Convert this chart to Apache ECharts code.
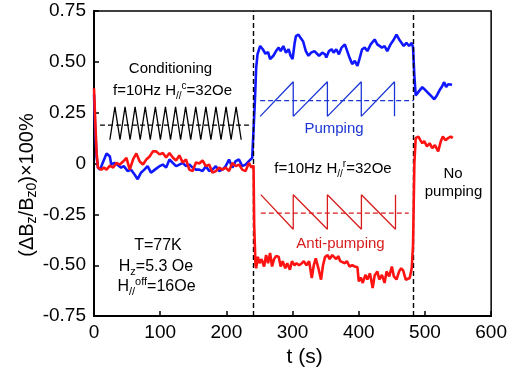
<!DOCTYPE html>
<html>
<head>
<meta charset="utf-8">
<script src="https://cdn.jsdelivr.net/npm/echarts@6/dist/echarts.min.js"></script>
<style>html,body{margin:0;padding:0;background:#fff;}#c{width:510px;height:373px;}</style>
</head>
<body>
<div id="c"></div>
<script>
// ---- data ----
var blueT = [0,2,4,6,9,14,19,24,26,31,35,41,45,51,56,61,66,71,76,81,86,92,99,104,109,114,119,124,129,134,139,144,149,154,159,164,169,174,179,184,189,194,199,204,209,214,219,224,229,234,239,241,243,245,247,251,255,259,263,266,271,275,279,282,286,290,294,297,300,303,305,309,312,316,320,324,328,333,340,345,349,351,355,359,362,366,370,374,379,382,386,390,394,398,401,405,409,413,418,424,428,431,435,439,443,448,453,457,461,464,468,472,476,480,482,484,486,488,492,496,501,506,510,514,518,522,526,529,532,535,541];
var blueV = [0.34,0.15,0.03,-0.02,-0.03,0.01,0.05,0.035,-0.005,0.003,-0.005,-0.02,-0.013,-0.037,-0.03,-0.053,-0.077,-0.045,-0.03,-0.013,-0.045,-0.03,-0.013,-0.005,-0.02,0.02,0.003,-0.013,-0.005,0.003,-0.013,-0.005,-0.02,-0.03,-0.03,-0.037,-0.013,-0.037,-0.03,-0.013,-0.037,-0.03,-0.013,0.02,-0.02,0.012,0.02,-0.013,-0.005,0.012,0.028,0.02,0.3,0.47,0.537,0.578,0.562,0.54,0.548,0.513,0.53,0.553,0.57,0.553,0.578,0.545,0.562,0.53,0.513,0.59,0.626,0.634,0.618,0.6,0.553,0.53,0.545,0.553,0.53,0.545,0.537,0.521,0.553,0.562,0.545,0.562,0.537,0.57,0.586,0.578,0.521,0.489,0.505,0.48,0.513,0.562,0.57,0.553,0.586,0.61,0.586,0.594,0.57,0.578,0.553,0.586,0.61,0.634,0.61,0.618,0.578,0.594,0.578,0.594,0.57,0.43,0.335,0.33,0.36,0.376,0.36,0.343,0.33,0.316,0.335,0.36,0.38,0.4,0.376,0.39,0.387];

var redT = [0,2,4,6,11,15,19,24,29,34,39,44,49,54,59,64,69,74,79,84,89,94,99,104,109,114,119,124,129,134,139,144,149,154,159,164,169,174,179,184,189,194,199,204,209,214,219,224,229,234,238,241,242,244,245,247.5,250,253,257,260,263,266,269,272,275,279,282,285,289,292,296,299,303,306,310,314,317,321,325,329,332,335,339,343,346,349,353,356,360,363,366,369,372,375,379,382,386,390,394,398,400,403,406,410,413,417,421,424,428,431,435,439,442,446,450,453,457,461,464,467,471,474,477,480,482,484,486,490,493,496,499,503,507,511,515,520,524,527,531,535,539,542];
var redV = [0.37,0.2,0.05,-0.02,-0.03,-0.02,-0.03,-0.01,-0.02,0.003,-0.005,0.01,0.028,-0.03,0.02,0.05,0.01,-0.005,0.02,0.035,0.06,0.06,0.045,0.052,0.03,0.052,0.03,0.015,0.04,0.005,0.02,-0.03,-0.037,0.005,0.0,0.015,-0.013,-0.005,-0.045,-0.037,-0.02,-0.03,-0.02,-0.037,0.003,-0.013,-0.005,-0.03,-0.037,0.003,-0.02,-0.01,-0.3,-0.5,-0.515,-0.458,-0.49,-0.47,-0.506,-0.45,-0.49,-0.44,-0.506,-0.47,-0.455,-0.458,-0.506,-0.48,-0.515,-0.49,-0.522,-0.48,-0.5,-0.49,-0.5,-0.49,-0.48,-0.5,-0.48,-0.563,-0.5,-0.466,-0.515,-0.571,-0.5,-0.46,-0.45,-0.47,-0.45,-0.442,-0.47,-0.455,-0.48,-0.475,-0.49,-0.48,-0.506,-0.5,-0.506,-0.51,-0.579,-0.56,-0.587,-0.547,-0.57,-0.54,-0.612,-0.55,-0.53,-0.57,-0.547,-0.587,-0.53,-0.555,-0.506,-0.555,-0.57,-0.53,-0.515,-0.525,-0.571,-0.58,-0.563,-0.515,-0.4,0.0,0.125,0.133,0.115,0.1,0.11,0.084,0.1,0.076,0.09,0.06,0.11,0.133,0.115,0.125,0.133,0.125];

// schematic field waveforms (inset sketches)
var condWaveT = [24,31.6,39.3,46.9,54.5,62.1,69.8,77.4,85.0,92.7,100.3,107.9,115.6,123.2,130.8,138.4,146.1,153.7,161.3,169.0,176.6,184.2,191.9,199.5,207.1,214.7,222.4];
var condWaveV = [0.117,0.279,0.117,0.279,0.117,0.279,0.117,0.279,0.117,0.279,0.117,0.279,0.117,0.279,0.117,0.279,0.117,0.279,0.117,0.279,0.117,0.279,0.117,0.279,0.117,0.279,0.117];
var condMeanT = [9,235];
var condMeanV = [0.189,0.189];

var pumpWaveT = [251,301,301,352.6,352.6,403.8,403.8,454,454];
var pumpWaveV = [0.232,0.402,0.232,0.402,0.232,0.402,0.232,0.402,0.232];
var pumpMeanT = [251,483];
var pumpMeanV = [0.309,0.309];

var antiWaveT = [252,301,301,352.6,352.6,404,404,455.5,455.5];
var antiWaveV = [-0.153,-0.323,-0.153,-0.323,-0.153,-0.323,-0.153,-0.323,-0.153];
var antiMeanT = [252,475.5];
var antiMeanV = [-0.244,-0.244];

var phaseBounds = [241,483];
var xTicks = {min:0, max:600, step:100};
var yTicks = {min:-0.75, max:0.75, step:0.25};

function zip(a,b){ var r=[]; for(var i=0;i<a.length;i++) r.push([a[i],b[i]]); return r; }

var FONT = '"Liberation Sans", Arial, Helvetica, sans-serif';
var BLUE = '#1018ff', RED = '#ff1212';
var BLUE2 = '#1c36d6', RED2 = '#d81c1c';

function sketch(name, t, v, color, dashed){
  return {name:name, type:'line', data:zip(t,v), symbol:'none', silent:true, z:3,
    lineStyle:{color:color, width:1.3, type: dashed ? [5,3] : 'solid'}, animation:false};
}

var chart = echarts.init(document.getElementById('c'), null, {renderer:'canvas'});

var richBase = function(fs){ return {
  n:{fontSize:fs, lineHeight:fs+5, fontFamily:FONT, color:'#000'},
  sub:{fontSize:Math.round(fs*0.68), lineHeight:Math.round(fs*0.68), verticalAlign:'bottom', fontFamily:FONT, color:'#000'},
  sup:{fontSize:Math.round(fs*0.68), lineHeight:Math.round(fs*0.68), verticalAlign:'top', fontFamily:FONT, color:'#000'}
};};

function txt(x,y,text,fs,color,rich,rot){
  var st = {x:0, y:0, text:text, align:'center', verticalAlign:'middle', fill:color||'#000', font: fs+'px '+FONT};
  if (rich) st.rich = rich;
  return {type:'text', x:x, y:y, rotation:rot||0, style:st, z:10, silent:true};
}

var option = {
  animation:false,
  backgroundColor:'#fff',
  grid:{left:94, right:17, top:11, bottom:52, show:true, borderColor:'#000', borderWidth:1.5, containLabel:false},
  xAxis:{type:'value', min:xTicks.min, max:xTicks.max, interval:xTicks.step,
    name:'t (s)', nameLocation:'middle', nameGap:29,
    nameTextStyle:{fontSize:21, fontFamily:FONT, color:'#000', padding:[0,0,0,24]},
    axisLine:{show:true, onZero:false, lineStyle:{color:'#000', width:2}},
    axisTick:{show:true, inside:true, length:5, lineStyle:{color:'#000', width:1.5}},
    axisLabel:{fontSize:19, fontFamily:FONT, color:'#000', margin:7},
    splitLine:{show:false}},
  yAxis:{type:'value', min:yTicks.min, max:yTicks.max, interval:yTicks.step,
    axisLine:{show:true, onZero:false, lineStyle:{color:'#000', width:2}},
    axisTick:{show:true, inside:true, length:5, lineStyle:{color:'#000', width:1.5}},
    axisLabel:{fontSize:19, fontFamily:FONT, color:'#000', margin:8,
      formatter:function(v){ return Math.abs(v)<1e-9 ? '0' : v.toFixed(2); }},
    splitLine:{show:false}},
  series:[
    {name:'pumping run', type:'line', data:zip(blueT,blueV), symbol:'none', z:4,
      lineStyle:{color:BLUE, width:2.6}, silent:true,
      markLine:{silent:true, symbol:['none','none'], label:{show:false},
        lineStyle:{color:'#000', width:1.4, type:[5,3]},
        data: phaseBounds.map(function(b){ return {xAxis:b}; })}},
    {name:'anti-pumping run', type:'line', data:zip(redT,redV), symbol:'none', z:5,
      lineStyle:{color:RED, width:2.6}, silent:true},
    sketch('cond wave', condWaveT, condWaveV, '#000', false),
    sketch('cond mean', condMeanT, condMeanV, '#000', true),
    sketch('pump wave', pumpWaveT, pumpWaveV, BLUE2, false),
    sketch('pump mean', pumpMeanT, pumpMeanV, BLUE2, true),
    sketch('anti wave', antiWaveT, antiWaveV, RED2, false),
    sketch('anti mean', antiMeanT, antiMeanV, RED2, true)
  ],
  graphic:[
    txt(27, 185, '{n|(ΔB}{sub|z}{n|/B}{sub|z0}{n|)×100%}', 20, '#000', richBase(20), Math.PI/2),
    txt(170.5, 69, 'Conditioning', 15),
    txt(172.5, 91, '{n|f=10Hz H}{sub|//}{sup|c}{n|=32Oe}', 15, '#000', richBase(15)),
    txt(334, 129, 'Pumping', 15, BLUE2),
    txt(333, 169, '{n|f=10Hz H}{sub|//}{sup|r}{n|=32Oe}', 15, '#000', richBase(15)),
    txt(453, 174, 'No', 15),
    txt(453.5, 192, 'pumping', 15),
    txt(340.5, 244, 'Anti-pumping', 15, RED2),
    txt(158, 245.5, 'T=77K', 16),
    txt(156, 267, '{n|H}{sub|z}{n|=5.3 Oe}', 16, '#000', richBase(16)),
    txt(156.5, 287, '{n|H}{sub|//}{sup|off}{n|=16Oe}', 16, '#000', richBase(16))
  ]
};
chart.setOption(option);
</script>
</body>
</html>
